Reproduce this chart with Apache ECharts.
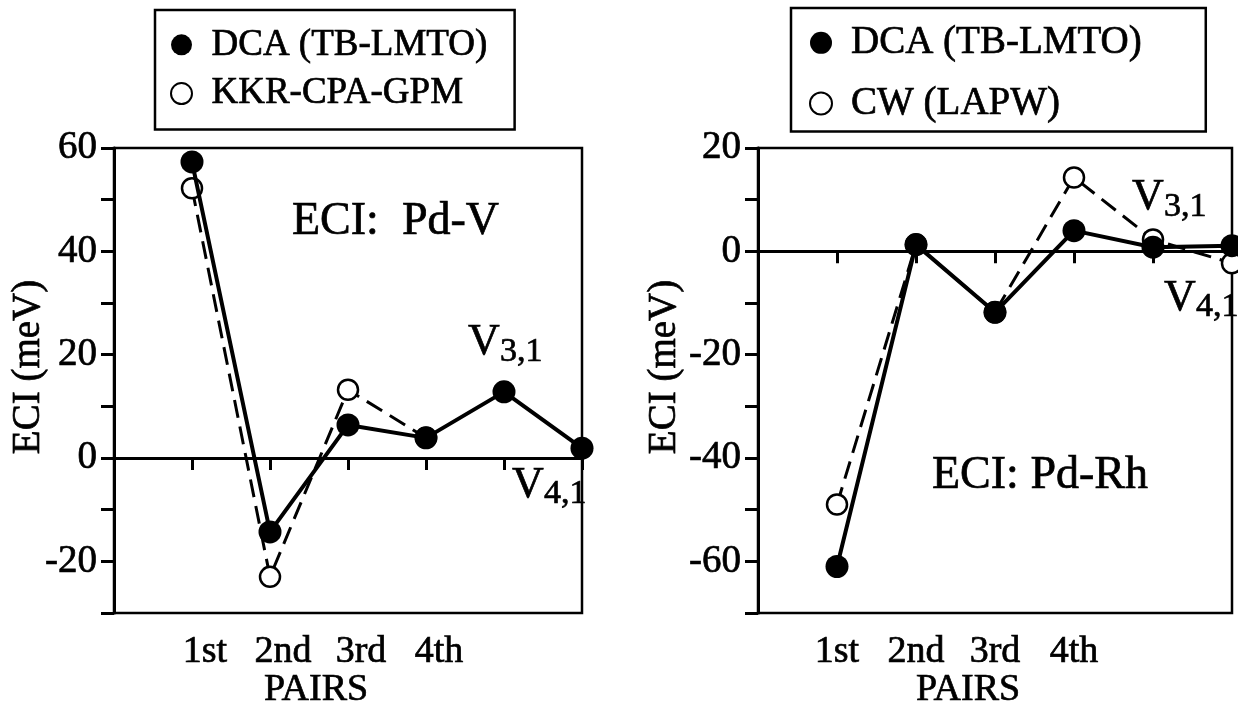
<!DOCTYPE html>
<html>
<head>
<meta charset="utf-8">
<script src="https://cdn.jsdelivr.net/npm/echarts@6/dist/echarts.min.js"></script>
<style>
  html, body { margin: 0; padding: 0; background: #fff; }
  #chart { width: 1238px; height: 705px; }
</style>
</head>
<body>
<div id="chart"></div>
<script>
// pair index on the x axis: 1 = 1st ... 6 = V4,1
const pairLabels = ["", "1st", "2nd", "3rd", "4th", "", ""];

// Pd-V panel
const pdvDCA = [[1, 57.3], [2, -14.3], [3, 6.4], [4, 3.9], [5, 12.8], [6, 1.9]];
const pdvKKR = [[1, 52.2], [2, -23], [3, 13.2], [4, 3.9]];

// Pd-Rh panel
const pdrhDCA = [[1, -61], [2, 1.3], [3, -11.8], [4, 4], [5, 0.8], [6, 1.1]];
const pdrhCW = [[1, -49], [2, 1.3], [3, -11.8], [4, 14.3], [5, 2.3], [6, -2.3]];

const FONT = '"Liberation Serif", "Times New Roman", serif';
const INK = 0.7; // slight stroke so the serif text looks like the heavy print

const chart = echarts.init(document.getElementById("chart"));

function xAxisFor(grid, shift) {
  return {
    gridIndex: grid,
    type: "value",
    min: 0,
    max: 6,
    interval: 1,
    axisLine: { lineStyle: { color: "#000", width: 3 } },
    axisTick: { inside: false, length: 12, lineStyle: { color: "#000", width: 3 } },
    splitLine: { show: false },
    axisLabel: {
      color: "#000",
      fontFamily: FONT,
      fontSize: 38,
      margin: 20,
      textBorderColor: "#000",
      textBorderWidth: INK,
      padding: [0, 0, 0, shift],
      formatter: v => pairLabels[v] || ""
    }
  };
}

function yAxisFor(grid, min, max) {
  return {
    gridIndex: grid,
    type: "value",
    min: min,
    max: max,
    interval: 10,
    axisLine: { show: true, lineStyle: { color: "#000", width: 3 } },
    axisTick: { inside: false, length: 13, lineStyle: { color: "#000", width: 3 } },
    splitLine: { show: false },
    axisLabel: {
      color: "#000",
      fontFamily: FONT,
      fontSize: 39,
      margin: 17,
      textBorderColor: "#000",
      textBorderWidth: INK,
      formatter: v => (v % 20 === 0 ? String(v) : "")
    }
  };
}

const zeroLine = {
  silent: true,
  symbol: "none",
  label: { show: false },
  lineStyle: { color: "#000", width: 2.5, type: "solid" },
  data: [{ yAxis: 0 }]
};

function solid(name, data, idx) {
  return {
    name: name,
    type: "line",
    xAxisIndex: idx,
    yAxisIndex: idx,
    data: data,
    z: 4,
    symbol: "circle",
    symbolSize: 23,
    itemStyle: { color: "#000" },
    lineStyle: { color: "#000", width: 4 },
    markLine: zeroLine
  };
}

function dashed(name, data, idx) {
  return {
    name: name,
    type: "line",
    xAxisIndex: idx,
    yAxisIndex: idx,
    data: data,
    z: 3,
    symbol: "circle",
    symbolSize: 20,
    itemStyle: { color: "#fff", borderColor: "#000", borderWidth: 2.5 },
    lineStyle: { color: "#000", width: 3, type: [18, 9] }
  };
}

function txt(x, y, s, size, align, rot) {
  return {
    type: "text",
    x: x,
    y: y,
    rotation: rot || 0,
    style: {
      text: s,
      font: size + "px " + FONT,
      fill: "#000",
      stroke: "#000",
      lineWidth: INK,
      align: align || "left",
      verticalAlign: "middle"
    }
  };
}

const legendText = size => ({
  color: "#000",
  fontFamily: FONT,
  fontSize: size,
  lineHeight: 36,
  textBorderColor: "#000",
  textBorderWidth: INK
});

const option = {
  animation: false,
  backgroundColor: "#fff",
  grid: [
    { left: 114, top: 148, width: 468, height: 465, show: true, borderColor: "#000", borderWidth: 2.5 },
    { left: 758, top: 148, width: 474, height: 465, show: true, borderColor: "#000", borderWidth: 2.5 }
  ],
  xAxis: [xAxisFor(0, 26), xAxisFor(1, 0)],
  yAxis: [yAxisFor(0, -30, 60), yAxisFor(1, -70, 20)],
  legend: [
    {
      data: ["DCA (TB-LMTO)", "KKR-CPA-GPM"],
      orient: "vertical",
      left: 155,
      top: 10,
      icon: "circle",
      itemWidth: 50,
      itemHeight: 21,
      itemGap: 11,
      padding: [16, 27, 17, 15],
      borderColor: "#000",
      borderWidth: 2.5,
      selectedMode: false,
      textStyle: legendText(37)
    },
    {
      data: ["DCA (TB-LMTO) ", "CW (LAPW)"],
      orient: "vertical",
      left: 791,
      top: 8,
      icon: "circle",
      itemWidth: 50,
      itemHeight: 22,
      itemGap: 21,
      padding: [15, 54, 8, 18],
      borderColor: "#000",
      borderWidth: 2.5,
      selectedMode: false,
      textStyle: legendText(39)
    }
  ],
  series: [
    solid("DCA (TB-LMTO)", pdvDCA, 0),
    dashed("KKR-CPA-GPM", pdvKKR, 0),
    solid("DCA (TB-LMTO) ", pdrhDCA, 1),
    dashed("CW (LAPW)", pdrhCW, 1)
  ],
  graphic: [
    txt(292, 222, "ECI:  Pd-V", 46),
    txt(932, 476, "ECI: Pd-Rh", 46),
    txt(468, 342, "V", 44),
    txt(500, 352, "3,1", 34),
    txt(1132, 197, "V", 44),
    txt(1164, 207, "3,1", 34),
    txt(512, 485, "V", 44),
    txt(544, 494, "4,1", 34),
    txt(1164, 298, "V", 44),
    txt(1196, 307, "4,1", 34),
    txt(316, 690, "PAIRS", 38, "center"),
    txt(968, 690, "PAIRS", 38, "center"),
    txt(29, 367, "ECI (meV)", 39, "center", Math.PI / 2),
    txt(665, 367, "ECI (meV)", 39, "center", Math.PI / 2)
  ]
};

chart.setOption(option);
</script>
</body>
</html>
